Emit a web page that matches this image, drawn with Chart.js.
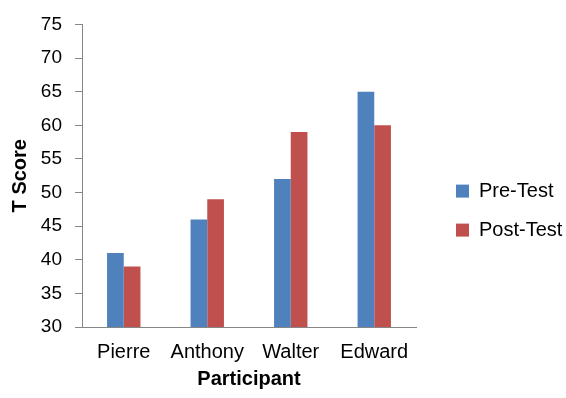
<!DOCTYPE html>
<html><head><meta charset="utf-8">
<script src="https://cdn.jsdelivr.net/npm/chart.js@4"></script>
<style>html,body{margin:0;padding:0;background:#fff}#w{width:566px;height:398px}</style>
</head><body>
<div id="w"><canvas id="c" width="566" height="398"></canvas></div>
<script>
const categories = ['Pierre', 'Anthony', 'Walter', 'Edward'];
const preTest = [41, 46, 52, 65];
const postTest = [39, 49, 59, 60];
const seriesNames = ['Pre-Test', 'Post-Test'];
const yMin = 30, yMax = 75, yStep = 5;

Chart.defaults.font.family = "'Liberation Sans', Arial, sans-serif";
Chart.defaults.color = '#000';
const axisGray = '#868686';

// let the right-hand legend be wider than Chart.js' default share of the width
const legendWidthPlugin = {
  id: 'legendWidth',
  beforeLayout(chart) {
    const lg = chart.legend;
    if (lg && !lg._wPatched) {
      const orig = lg.fit;
      lg.fit = function () { this.maxWidth = 1000; orig.call(this); this.width = 129; };
      lg._wPatched = true;
    }
  }
};

new Chart(document.getElementById('c'), {
  type: 'bar',
  data: {
    labels: categories,
    datasets: [
      { label: seriesNames[0], data: preTest, backgroundColor: '#4F81BD', borderWidth: 0 },
      { label: seriesNames[1], data: postTest, backgroundColor: '#C0504D', borderWidth: 0 }
    ]
  },
  plugins: [legendWidthPlugin],
  options: {
    responsive: false,
    animation: false,
    devicePixelRatio: 1,
    layout: { padding: { top: 18, right: 0, bottom: 0, left: 0 } },
    datasets: { bar: { categoryPercentage: 0.4, barPercentage: 1 } },
    plugins: {
      tooltip: { enabled: false },
      legend: {
        position: 'right',
        align: 'center',
        title: { display: true, text: ' ', font: { size: 1 }, padding: { top: 2, bottom: 2 } },
        labels: { boxWidth: 13, boxHeight: 13, padding: 19, font: { size: 20 }, color: '#000' }
      }
    },
    scales: {
      x: {
        grid: { display: false, drawTicks: false },
        border: { display: true, color: axisGray, width: 1 },
        ticks: { font: { size: 20 }, padding: 13, color: '#000' },
        title: { display: true, text: 'Participant', font: { size: 20, weight: 'bold' }, padding: { top: 0, bottom: 7 }, color: '#000' },
        afterFit(s) { s.height = 71; }
      },
      y: {
        min: yMin, max: yMax,
        ticks: { stepSize: yStep, font: { size: 19 }, padding: 13, color: '#000' },
        grid: { display: true, drawOnChartArea: false, drawTicks: true, tickLength: 7, color: axisGray },
        border: { display: true, color: axisGray, width: 1 },
        title: { display: true, text: 'T Score', font: { size: 20, weight: 'bold' }, padding: { top: 8, bottom: 0 }, color: '#000' },
        afterFit(s) { s.width = 82; }
      },
      gap: {
        type: 'linear', position: 'right', display: true,
        grid: { display: false }, border: { display: false }, ticks: { display: false },
        afterFit(s) { s.width = 21; }
      }
    }
  }
});
</script>
</body></html>
